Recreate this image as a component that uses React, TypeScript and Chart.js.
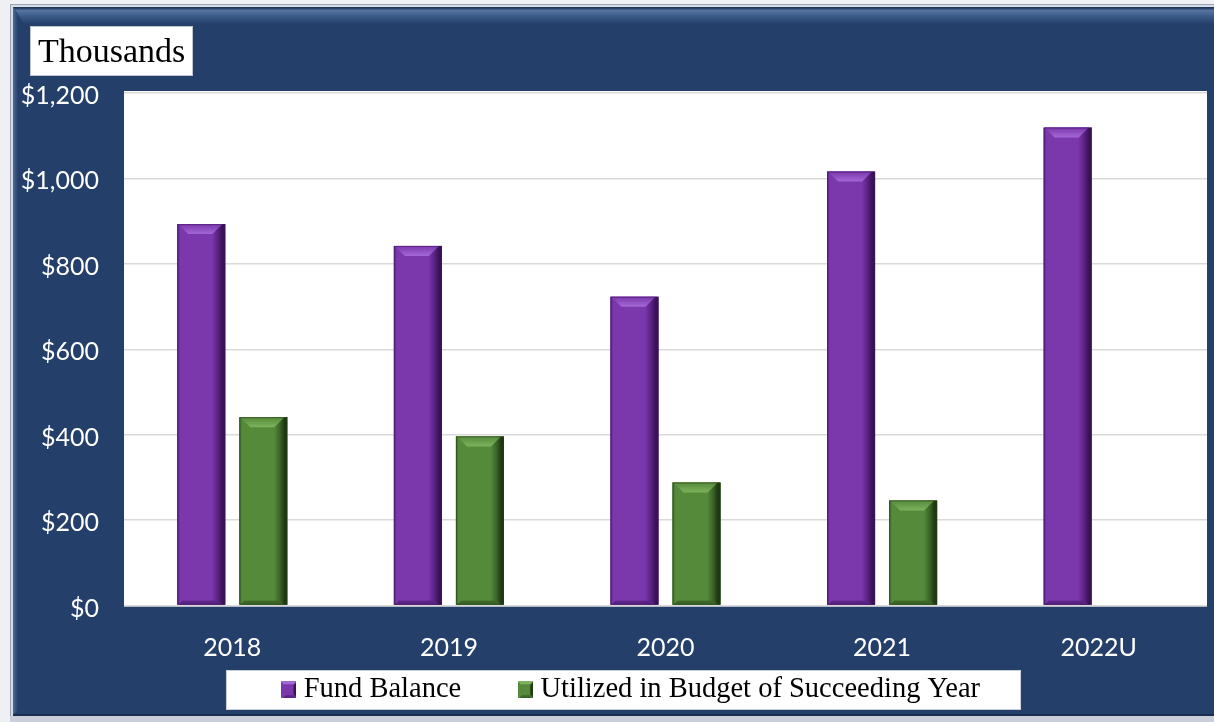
import React, { useEffect, useRef } from "react";
import { Chart, registerables } from "chart.js";

Chart.register(...registerables);

const categories = ["2018", "2019", "2020", "2021", "2022U"];
const fundBalance = [893, 842, 723, 1016, 1119];
const utilizedNextYear = [441, 396, 288, 246, null];
const yTicks = [0, 200, 400, 600, 800, 1000, 1200];
const seriesNames = ["Fund Balance", "Utilized in Budget of Succeeding Year"];
const unitLabel = "Thousands";

const NAVY = "#243F6A";
const PURPLE = { main: "#7B37AC", light: "#A468D6", dark: "#3A1257", edge: "#5B2385" };
const GREEN = { main: "#558A3B", light: "#7DB25C", dark: "#1F3A12", edge: "#3C6628" };

function makeMarker(pal: any) {
  const c = document.createElement("canvas");
  c.width = 15;
  c.height = 17;
  const x = c.getContext("2d") as CanvasRenderingContext2D;
  const cx = 7.5, cy = 8.5;
  const tri = (pts: number[][], col: string) => {
    x.fillStyle = col;
    x.beginPath();
    x.moveTo(pts[0][0], pts[0][1]);
    for (let i = 1; i < pts.length; i++) x.lineTo(pts[i][0], pts[i][1]);
    x.closePath();
    x.fill();
  };
  tri([[0, 0], [15, 0], [cx, cy]], pal.light);
  tri([[15, 0], [15, 17], [cx, cy]], pal.dark);
  tri([[0, 17], [15, 17], [cx, cy]], pal.edge);
  tri([[0, 0], [0, 17], [cx, cy]], pal.main);
  x.fillStyle = pal.main;
  x.fillRect(3, 3, 9, 11);
  return c;
}

const framePlugin = {
  id: "frame",
  afterLayout(chart: any) {
    const lg = chart.legend;
    if (lg) {
      lg.left = 61.5;
    }
    const xs = chart.scales.x;
    if (xs) {
      xs.bottom = xs.top + 62;
    }
  },
  beforeDraw(chart: any) {
    const { ctx, width, height, chartArea } = chart;
    ctx.save();
    ctx.fillStyle = "#EEF0F4";
    ctx.fillRect(0, 0, width, height);
    // outer border lines
    ctx.fillStyle = "#9AA3B5";
    ctx.fillRect(10, 4, width - 10, 1);
    ctx.fillRect(10, 4, 1, height - 8);
    ctx.fillStyle = "#D7DCE6";
    ctx.fillRect(11, 5, width - 11, 2);
    ctx.fillRect(11, 5, 2, height - 10);
    // navy body
    ctx.fillStyle = NAVY;
    ctx.fillRect(13, 7, width - 13, height - 13);
    // top bevel
    const gt = ctx.createLinearGradient(0, 8, 0, 24);
    gt.addColorStop(0, "#1E355C");
    gt.addColorStop(0.15, "#56749F");
    gt.addColorStop(0.5, "#3E5C89");
    gt.addColorStop(1, NAVY);
    ctx.fillStyle = gt;
    ctx.beginPath();
    ctx.moveTo(13, 7);
    ctx.lineTo(width, 7);
    ctx.lineTo(width, 24);
    ctx.lineTo(24, 24);
    ctx.closePath();
    ctx.fill();
    // left bevel
    const gl = ctx.createLinearGradient(13, 0, 18, 0);
    gl.addColorStop(0, "#4E6C98");
    gl.addColorStop(1, NAVY);
    ctx.fillStyle = gl;
    ctx.beginPath();
    ctx.moveTo(13, 7);
    ctx.lineTo(18, 14);
    ctx.lineTo(18, height - 12);
    ctx.lineTo(13, height - 7);
    ctx.closePath();
    ctx.fill();
    // bottom edge
    ctx.fillStyle = "#1A2F50";
    ctx.fillRect(13, height - 8, width - 13, 2);
    ctx.fillStyle = "#C9CED8";
    ctx.fillRect(10, height - 6, width - 10, 6);
    // plot background
    ctx.fillStyle = "#FFFFFF";
    ctx.fillRect(chartArea.left, chartArea.top - 2, chartArea.right - chartArea.left, chartArea.bottom - chartArea.top + 3);
    // unit label box
    ctx.fillStyle = "#FFFFFF";
    ctx.fillRect(30, 26, 163, 50);
    ctx.strokeStyle = "#BFC5D0";
    ctx.lineWidth = 1;
    ctx.strokeRect(30.5, 26.5, 162, 49);
    ctx.fillStyle = "#000000";
    ctx.font = "34px 'Liberation Serif'";
    ctx.textBaseline = "alphabetic";
    ctx.textAlign = "left";
    ctx.fillText(unitLabel, 38, 62);
    // legend box
    const lg = chart.legend;
    if (lg && lg.legendHitBoxes && lg.legendHitBoxes.length) {
      const hb = lg.legendHitBoxes;
      const l = hb[0].left - 62.5;
      const r = hb[hb.length - 1].left + hb[hb.length - 1].width + 41;
      ctx.fillStyle = "#FFFFFF";
      ctx.fillRect(l, 670, r - l, 40);
      ctx.strokeStyle = "#C8CDD8";
      ctx.strokeRect(Math.round(l) + 0.5, 670.5, Math.round(r - l) - 1, 39);
    }
    ctx.restore();
  },
};

const bevelPlugin = {
  id: "bevel",
  afterDatasetsDraw(chart: any) {
    const { ctx } = chart;
    ctx.save();
    chart.data.datasets.forEach((ds: any, di: number) => {
      const pal = di === 0 ? PURPLE : GREEN;
      const meta = chart.getDatasetMeta(di);
      meta.data.forEach((bar: any) => {
        const p = bar.getProps(["x", "y", "base", "width"], true);
        if (p.y == null || isNaN(p.y) || Math.abs(p.base - p.y) < 1) return;
        const left = p.x - p.width / 2;
        const right = p.x + p.width / 2;
        const top = Math.min(p.y, p.base);
        const bottom = Math.max(p.y, p.base);
        const w = right - left;
        const g = ctx.createLinearGradient(left, 0, right, 0);
        g.addColorStop(0, pal.edge);
        g.addColorStop(0.06, pal.main);
        g.addColorStop(0.72, pal.main);
        g.addColorStop(0.84, pal.edge);
        g.addColorStop(0.94, pal.dark);
        g.addColorStop(1, pal.dark);
        ctx.fillStyle = g;
        ctx.fillRect(left, top, w, bottom - top);
        const bv = Math.min(10, (bottom - top) / 3);
        // top bevel
        const gt = ctx.createLinearGradient(0, top, 0, top + bv);
        gt.addColorStop(0, pal.main);
        gt.addColorStop(1, pal.light);
        ctx.fillStyle = gt;
        ctx.beginPath();
        ctx.moveTo(left + 1, top);
        ctx.lineTo(right - 3, top);
        ctx.lineTo(right - 3 - bv, top + bv);
        ctx.lineTo(left + 1 + bv, top + bv);
        ctx.closePath();
        ctx.fill();
        // bottom bevel
        ctx.fillStyle = pal.edge;
        ctx.beginPath();
        ctx.moveTo(left + 1, bottom);
        ctx.lineTo(right - 3, bottom);
        ctx.lineTo(right - 3 - 4, bottom - 4);
        ctx.lineTo(left + 1 + 4, bottom - 4);
        ctx.closePath();
        ctx.fill();
        // outline
        ctx.strokeStyle = pal.dark;
        ctx.globalAlpha = 0.5;
        ctx.lineWidth = 1;
        ctx.strokeRect(left + 0.5, top + 0.5, w - 1, bottom - top - 1);
        ctx.globalAlpha = 1;
      });
    });
    ctx.restore();
  },
};

export default function App() {
  const ref = useRef<HTMLCanvasElement | null>(null);
  useEffect(() => {
    if (!ref.current) return;
    const markers = [makeMarker(PURPLE), makeMarker(GREEN)];
    const chart = new Chart(ref.current, {
      type: "bar",
      data: {
        labels: categories,
        datasets: [
          {
            label: seriesNames[0],
            data: fundBalance,
            backgroundColor: PURPLE.main,
            borderWidth: 0,
            categoryPercentage: 0.573,
            barPercentage: 0.774,
          },
          {
            label: seriesNames[1],
            data: utilizedNextYear,
            backgroundColor: GREEN.main,
            borderWidth: 0,
            categoryPercentage: 0.573,
            barPercentage: 0.774,
          },
        ],
      },
      options: {
        responsive: false,
        animation: false,
        layout: { padding: { left: 0, right: 7, top: 93, bottom: 8 } },
        plugins: {
          tooltip: { enabled: false },
          legend: {
            position: "bottom",
            labels: {
              color: "#000000",
              font: { family: "'Liberation Serif'", size: 28.5 },
              usePointStyle: true,
              pointStyleWidth: 1,
              boxHeight: 17,
              padding: 64,
              generateLabels: (c: any) => {
                const items = Chart.defaults.plugins.legend.labels.generateLabels(c);
                return items.map((it: any, i: number) => ({ ...it, pointStyle: markers[i] }));
              },
            },
          },
        },
        scales: {
          x: {
            grid: { display: false, drawTicks: false },
            border: { display: false },
            ticks: { color: "#FFFFFF", font: { family: "Lato", size: 25 }, padding: 27 },
            afterFit: (s: any) => {
              s.height = 6;
            },
          },
          y: {
            min: yTicks[0],
            max: yTicks[yTicks.length - 1],
            afterBuildTicks: (s: any) => {
              s.ticks = yTicks.map((v) => ({ value: v }));
            },
            grid: { color: "#D9D9D9", drawTicks: false, lineWidth: 1.5 },
            border: { display: false },
            ticks: {
              color: "#FFFFFF",
              font: { family: "Lato", size: 25 },
              padding: 25,
              labelOffset: 3,
              callback: (v: any) => "$" + Number(v).toLocaleString("en-US"),
            },
            afterFit: (s: any) => {
              s.width = 124;
            },
          },
        },
      },
      plugins: [framePlugin, bevelPlugin],
    } as any);
    return () => chart.destroy();
  }, []);
  return (
    <div style={{ position: "fixed", left: 0, top: 0, width: 1214, height: 722 }}>
      <canvas ref={ref} width={1214} height={722} />
    </div>
  );
}
